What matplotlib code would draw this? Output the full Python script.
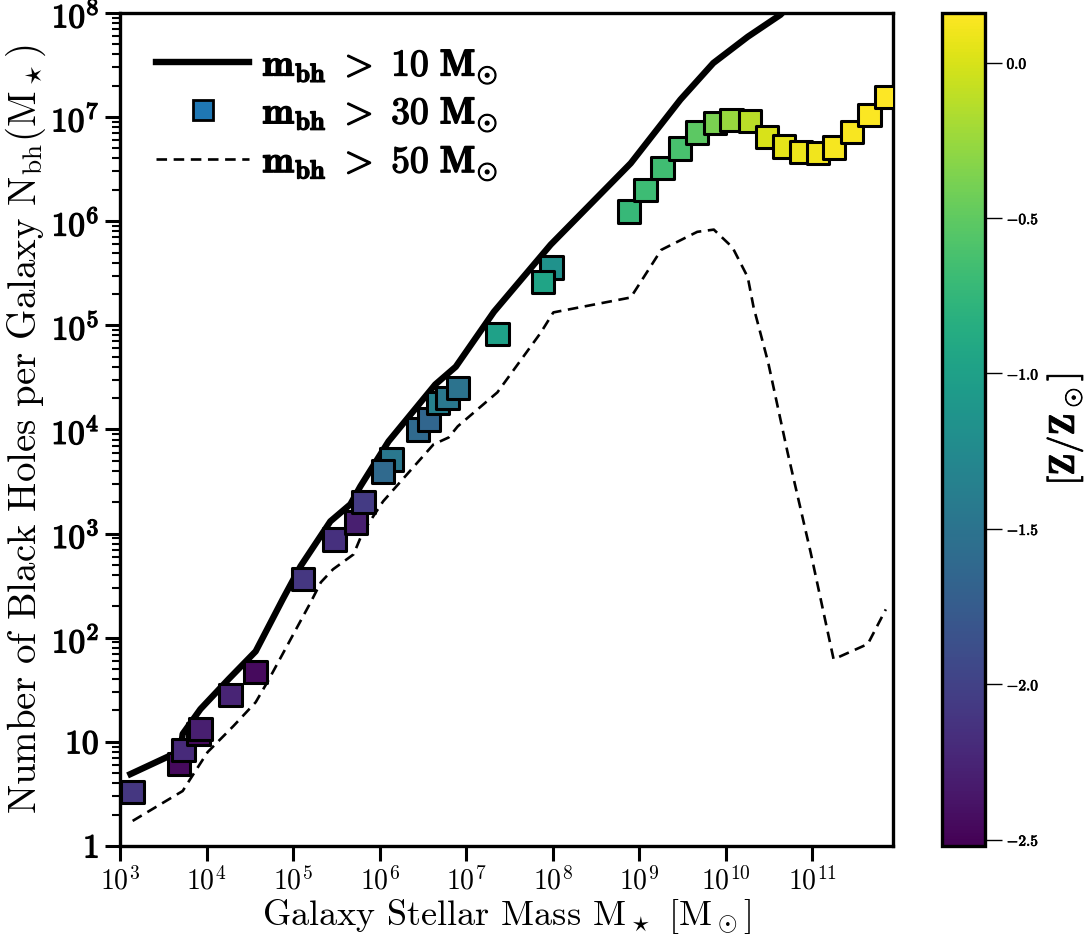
import numpy as np
import matplotlib
matplotlib.use('Agg')
import matplotlib.pyplot as plt
import matplotlib.patheffects as pe
from matplotlib.lines import Line2D
from matplotlib.ticker import FuncFormatter, LogLocator, NullLocator

plt.rcParams['font.family'] = 'serif'
plt.rcParams['font.serif'] = ['cmr10']
plt.rcParams['mathtext.fontset'] = 'cm'
plt.rcParams['axes.formatter.use_mathtext'] = True
plt.rcParams['axes.unicode_minus'] = False

# ---------------------------------------------------------------------------
# DATA
mass_10 = [1.32e3, 5.0e3, 5.3e3, 8.5e3, 1.8e4, 3.7e4, 7.6e4, 1.22e5, 2.7e5, 4.6e5,
           6.0e5, 1.27e6, 4.4e6, 7.6e6, 2.1e7, 9.5e7, 8.0e8, 3.0e9, 7.2e9, 1.8e10,
           4.3e10, 1.0e11]
nbh_10 = [4.9, 8.2, 11.9, 20.6, 40, 74, 234, 485, 1310, 1910,
          2840, 7680, 2.7e4, 4.0e4, 1.35e5, 5.95e5, 3.6e6, 1.47e7, 3.3e7, 5.9e7,
          9.6e7, 2.0e8]

mass_50 = [1.4e3, 5.3e3, 6.5e3, 1.03e4, 2.05e4, 3.7e4, 5.1e4, 1.6e5, 2.1e5, 2.9e5,
           5.0e5, 6.4e5, 1.1e6, 4.2e6, 6.3e6, 8.0e6, 2.3e7, 7.3e7, 1.02e8, 8.0e8,
           1.8e9, 4.7e9, 7.3e9, 1.2e10, 1.8e10, 2.1e10, 3.1e10, 5.2e10, 9.6e10, 1.77e11,
           4.4e11, 7.1e11]
nbh_50 = [1.74, 3.37, 4.4, 7.97, 14.2, 24, 38, 219, 341, 454,
          631, 1030, 2040, 7180, 8380, 1.07e4, 2.27e4, 8.5e4, 1.33e5, 1.85e5,
          5.3e5, 7.9e5, 8.3e5, 5.6e5, 2.9e5, 1.5e5, 4.4e4, 6000, 660, 62,
          87, 187]

mass_30 = [1.4e3, 4.8e3, 5.4e3, 8.1e3, 8.5e3, 1.9e4, 3.7e4, 1.3e5, 3.0e5, 5.3e5,
           6.5e5, 1.37e6, 1.1e6, 2.8e6, 3.7e6, 4.7e6, 6.1e6, 8.0e6, 2.3e7, 9.7e7,
           7.7e7, 7.6e8, 1.19e9, 1.87e9, 2.95e9, 4.7e9, 7.5e9, 1.17e10, 1.9e10, 3.0e10,
           4.7e10, 7.4e10, 1.16e11, 1.8e11, 2.9e11, 4.6e11, 7.1e11]
nbh_30 = [3.3, 6.1, 8.3, 11.9, 13.3, 28, 47, 365, 880, 1280,
          2000, 5150, 3950, 1.0e4, 1.25e4, 1.8e4, 2.0e4, 2.5e4, 8.2e4, 3.6e5,
          2.6e5, 1.24e6, 2.0e6, 3.25e6, 5.0e6, 7.1e6, 8.8e6, 9.4e6, 9.2e6, 6.46e6,
          5.2e6, 4.6e6, 4.5e6, 5.1e6, 7.2e6, 1.05e7, 1.56e7]
metal_30 = [-2.1, -2.45, -2.2, -2.45, -2.3, -2.25, -2.45, -2.1, -2.15, -2.3,
            -2.05, -1.45, -1.6, -1.6, -1.65, -1.35, -1.45, -1.5, -1.0, -1.15,
            -0.95, -0.72, -0.68, -0.66, -0.62, -0.52, -0.38, -0.25, -0.12, 0.0,
            0.05, 0.08, 0.1, 0.12, 0.13, 0.14, 0.15]

x_ticks = [1e3, 1e4, 1e5, 1e6, 1e7, 1e8, 1e9, 1e10, 1e11]
y_ticks = [1, 10, 1e2, 1e3, 1e4, 1e5, 1e6, 1e7, 1e8]
cbar_ticks = [0.0, -0.5, -1.0, -1.5, -2.0, -2.5]

# heavier strokes so the cm bold reads like LaTeX bold extended
bold_fx = [pe.withStroke(linewidth=1.0, foreground='k')]

# ---------------------------------------------------------------------------
fig = plt.figure(figsize=(10.86, 9.36), dpi=100)
ax = fig.add_axes([0.1105, 0.0962, 0.7118, 0.890])
cax = fig.add_axes([0.8674, 0.0962, 0.0396, 0.890])

ax.plot(mass_10, nbh_10, color='k', lw=4.6, solid_joinstyle='round', zorder=2)
ax.plot(mass_50, nbh_50, color='k', lw=1.9, ls=(0, (4, 2.5)), zorder=2)
sc = ax.scatter(mass_30, nbh_30, c=metal_30, cmap='viridis', vmin=-2.52, vmax=0.16,
                marker='s', s=260, edgecolors='k', linewidths=2.2, zorder=3)

ax.set_xscale('log')
ax.set_yscale('log')
ax.set_xlim(1e3, 8.6e11)
ax.set_ylim(1, 1e8)

ax.set_xticks(x_ticks)
ax.xaxis.set_minor_locator(NullLocator())
ax.xaxis.set_major_formatter(FuncFormatter(
    lambda v, p: r'$\mathdefault{10^{%d}}$' % round(np.log10(v))))


def ylab(v, p):
    e = int(round(np.log10(v)))
    if e == 0:
        return r'$\mathbf{1}$'
    if e == 1:
        return r'$\mathbf{10}$'
    return r'$\mathbf{10}^{\mathbf{%d}}$' % e


ax.set_yticks(y_ticks)
ax.yaxis.set_major_formatter(FuncFormatter(ylab))
ax.yaxis.set_minor_locator(LogLocator(base=10, subs=np.arange(2, 10), numticks=20))

ax.tick_params(axis='both', which='major', length=11, width=2.2, direction='out')
ax.tick_params(axis='x', labelsize=20, pad=4)
ax.tick_params(axis='y', labelsize=24, pad=4)
ax.tick_params(axis='y', which='minor', length=6, width=1.5)
for s in ax.spines.values():
    s.set_linewidth(2.4)
for t in ax.get_yticklabels():
    t.set_path_effects(bold_fx)

ax.set_xlabel(r'Galaxy Stellar Mass $\mathrm{M}_\star$ [$\mathrm{M}_\odot$]', fontsize=26, labelpad=1)
ax.set_ylabel(r'Number of Black Holes per Galaxy $\mathrm{N}_{\mathrm{bh}}(\mathrm{M}_\star)$',
              fontsize=28, labelpad=2)

handles = [Line2D([], [], color='k', lw=4.6),
           Line2D([], [], color='#1f77b4', marker='s', ls='none', markersize=15,
                  markeredgecolor='k', markeredgewidth=2),
           Line2D([], [], color='k', lw=1.9, ls=(0, (4, 2.5)))]
labels = [r'$\mathbf{m}_{\mathbf{bh}}\ >\ \mathbf{10\ M}_{\odot}$',
          r'$\mathbf{m}_{\mathbf{bh}}\ >\ \mathbf{30\ M}_{\odot}$',
          r'$\mathbf{m}_{\mathbf{bh}}\ >\ \mathbf{50\ M}_{\odot}$']
leg = ax.legend(handles, labels, loc='upper left', frameon=False, fontsize=27,
                handlelength=2.5, labelspacing=0.28, borderaxespad=0.55, handletextpad=0.35)
for t in leg.get_texts():
    t.set_path_effects(bold_fx)

cb = fig.colorbar(sc, cax=cax)
cb.set_ticks(cbar_ticks)
cb.set_ticklabels([r'$\mathbf{%.1f}$' % t for t in cbar_ticks])
cb.ax.tick_params(length=12, width=1, labelsize=11)
cb.outline.set_linewidth(2.4)
for t in cb.ax.get_yticklabels():
    t.set_path_effects([pe.withStroke(linewidth=0.5, foreground='k')])
cb.set_label(r'$[\mathbf{Z}/\mathbf{Z}_\odot]$', fontsize=26, labelpad=4,
             path_effects=[pe.withStroke(linewidth=0.6, foreground='k')])

fig.savefig('out.png', dpi=100)
